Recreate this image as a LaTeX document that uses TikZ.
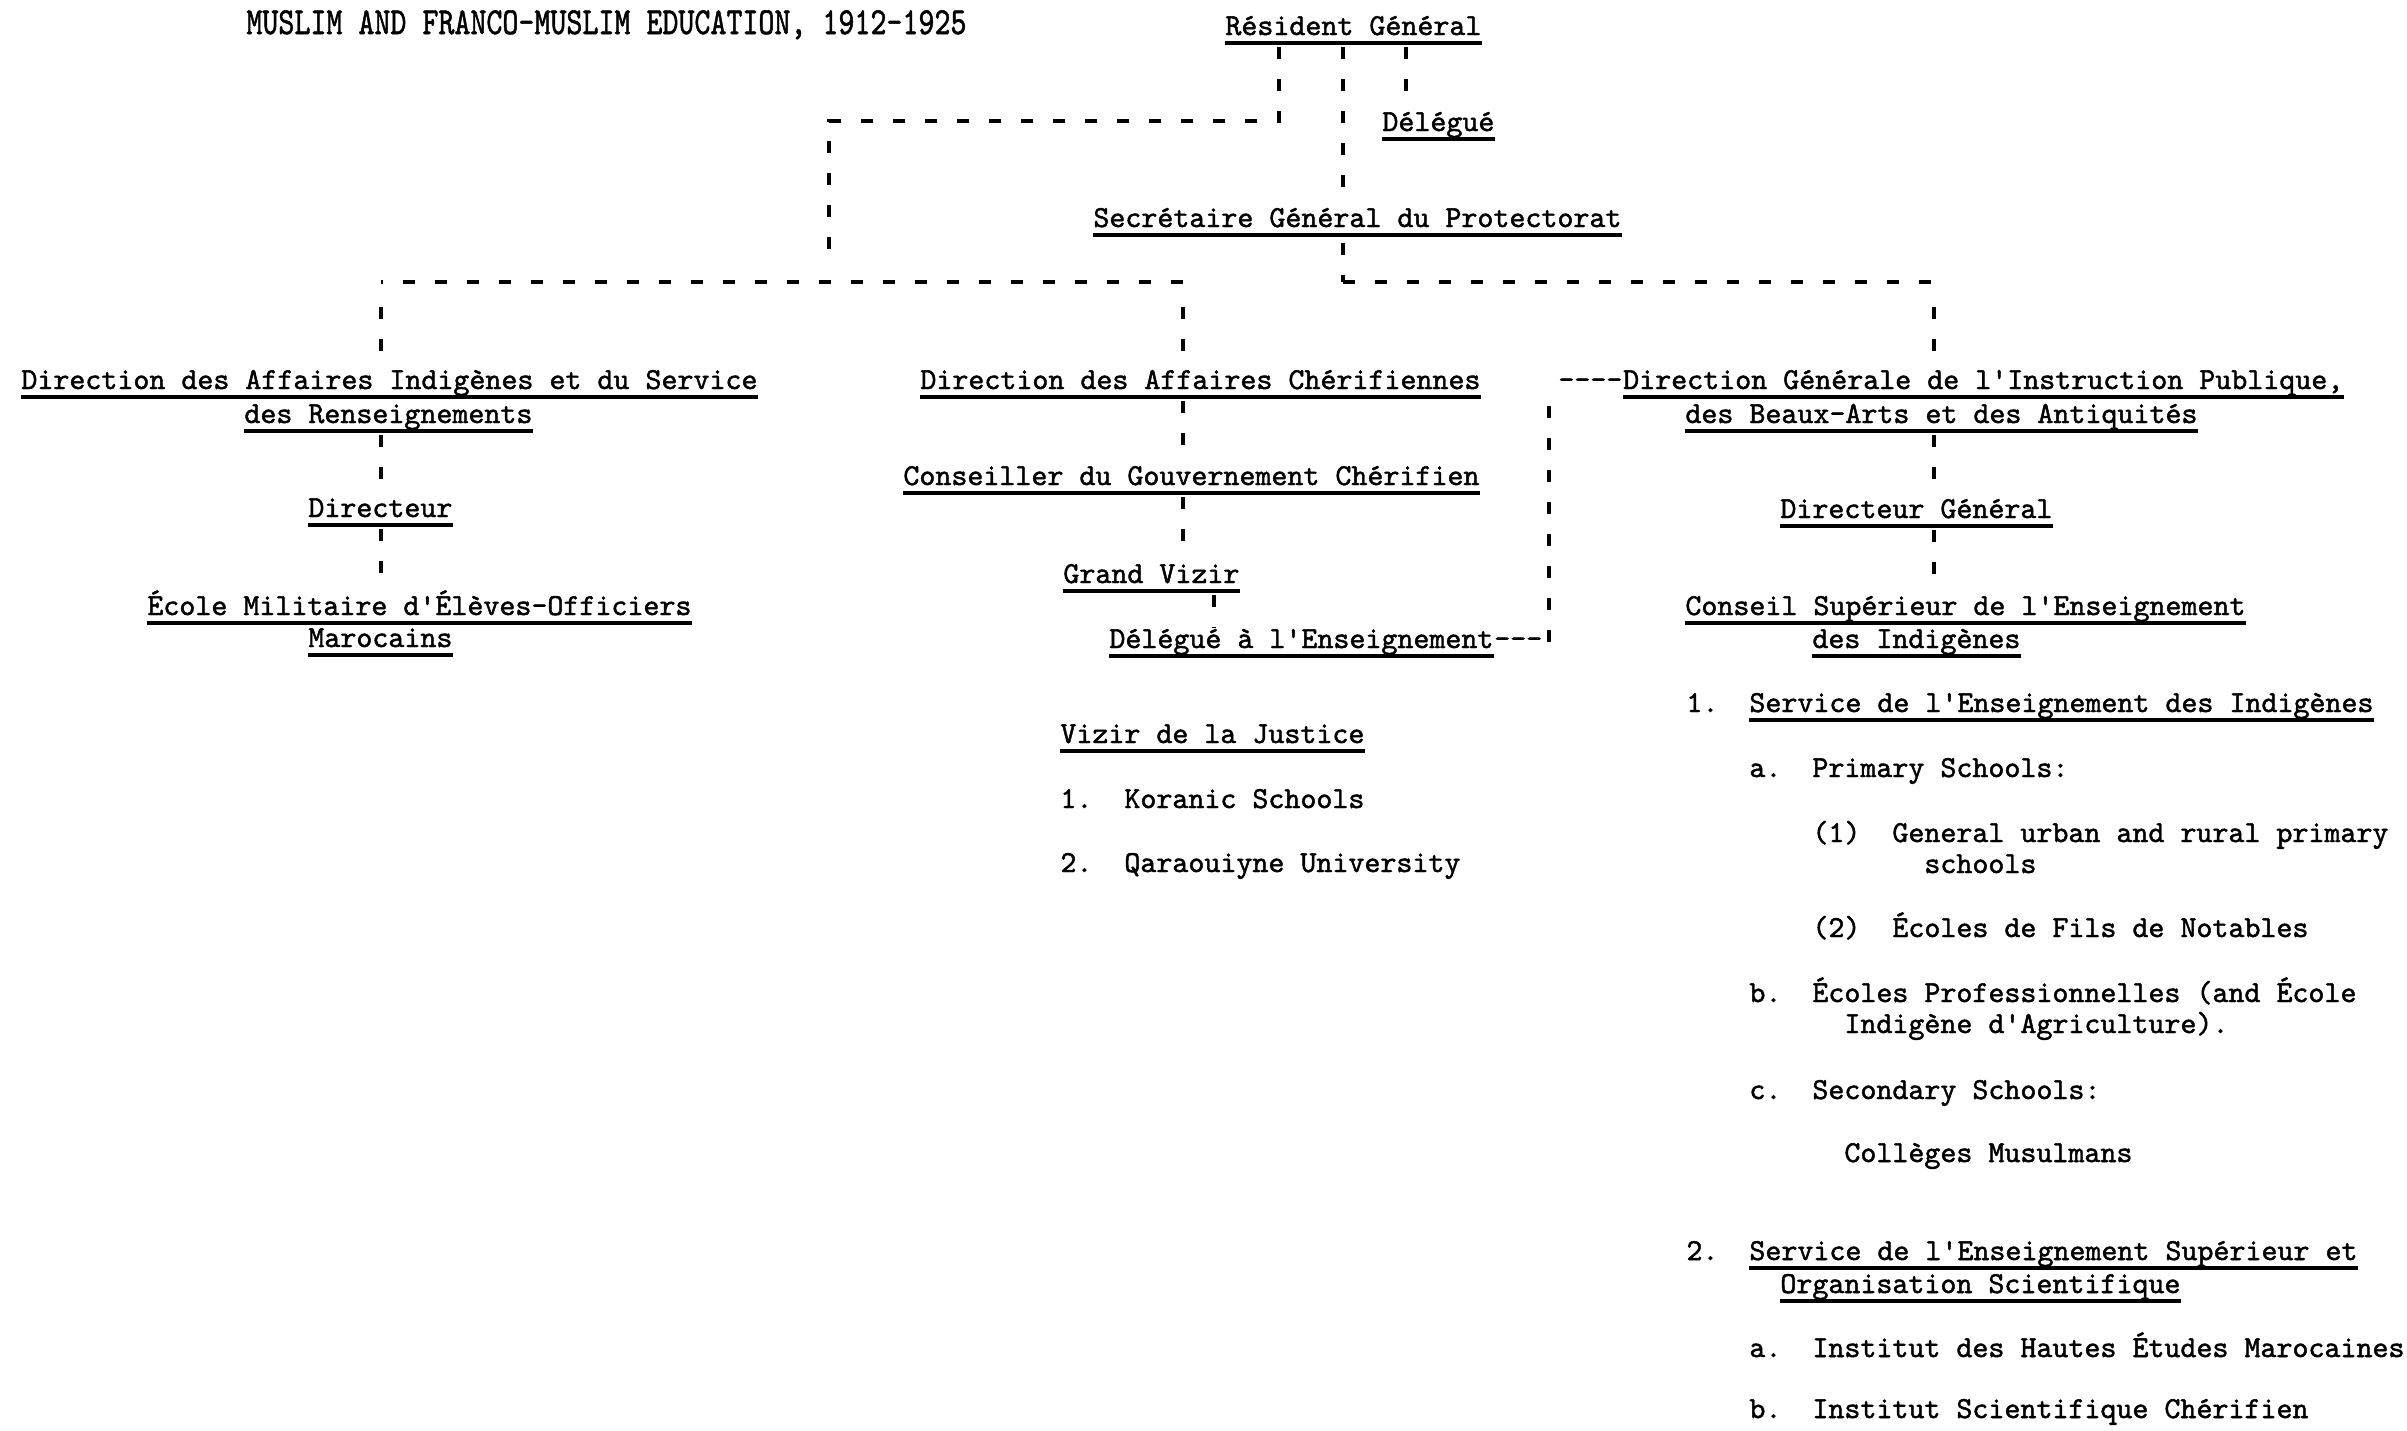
\documentclass[tikz,border=0pt]{standalone}
\usepackage{fontspec}
\newfontfamily\tw{lmmono10-regular.otf}[FakeBold=1.5]
\tikzset{
  txt/.style={inner sep=0pt, anchor=base west, font=\tw\fontsize{15.24}{17}\selectfont, text height=10pt, text depth=4pt},
  uline/.style={line width=1.8pt},
  conn/.style={line width=1.8pt, dash pattern=on 6pt off 10pt},
  tick/.style={conn, shorten <=2pt, shorten >=8pt},
  drop/.style={conn, shorten <=12.5pt, shorten >=8pt},
}
\newcommand\ULine[1]{\draw[uline] ([yshift=-4pt]#1.base west) -- ([yshift=-4pt]#1.base east);}
\begin{document}
\begin{tikzpicture}[x=0.5pt,y=-0.5pt]
\fill[white] (0,0) rectangle (2407,1430);
\useasboundingbox (0,0) rectangle (2407,1430);

% title and top
\node[txt] (title) at (246,34) {\scalebox{1}[1.25]{MUSLIM AND FRANCO-MUSLIM EDUCATION, 1912-1925}};
\node[txt] (res) at (1225,35) {Résident Général}; \ULine{res}
\node[txt] (dlg) at (1382,131) {Délégué}; \ULine{dlg}
\node[txt] (sec) at (1093,227) {Secrétaire Général du Protectorat}; \ULine{sec}

% left column
\node[txt] (dai1) at (21,389) {Direction des Affaires Indigènes et du Service}; \ULine{dai1}
\node[txt] (dai2) at (244,423) {des Renseignements}; \ULine{dai2}
\node[txt] (dir) at (308,517) {Directeur}; \ULine{dir}
\node[txt] (ecole1) at (147,615) {École Militaire d'Élèves-Officiers}; \ULine{ecole1}
\node[txt] (ecole2) at (308,647) {Marocains}; \ULine{ecole2}

% middle column
\node[txt] (dac) at (920,389) {Direction des Affaires Chérifiennes}; \ULine{dac}
\node[txt] (cons) at (903,485) {Conseiller du Gouvernement Chérifien}; \ULine{cons}
\node[txt] (gv) at (1063,583) {Grand Vizir}; \ULine{gv}
\node[txt] (dlgE) at (1109,648) {Délégué à l'Enseignement}; \ULine{dlgE}
\node[txt] (dlgEd) at (dlgE.base east) {-{}-{}-};
\node[txt] (vj) at (1060,743) {Vizir de la Justice}; \ULine{vj}
\node[txt] (k1n) at (1060,808) {1.};
\node[txt] (k1) at (1124,808) {Koranic Schools};
\node[txt] (k2n) at (1060,872) {2.};
\node[txt] (k2) at (1124,872) {Qaraouiyne University};

% right column
\node[txt] (dgd) at (1558,389) {-{}-{}-{}-};
\node[txt] (dg1) at (dgd.base east) {Direction Générale de l'Instruction Publique,}; \ULine{dg1}
\node[txt] (dg2) at (1685,423) {des Beaux-Arts et des Antiquités}; \ULine{dg2}
\node[txt] (dgn) at (1780,518) {Directeur Général}; \ULine{dgn}
\node[txt] (cs1) at (1685,615) {Conseil Supérieur de l'Enseignement}; \ULine{cs1}
\node[txt] (cs2) at (1812,648) {des Indigènes}; \ULine{cs2}

\node[txt] (s1n) at (1686,712) {1.};
\node[txt] (s1) at (1749,712) {Service de l'Enseignement des Indigènes}; \ULine{s1}
\node[txt] (san) at (1749,777) {a.};
\node[txt] (sa) at (1812,777) {Primary Schools:};
\node[txt] (p1n) at (1812,842) {(1)};
\node[txt] (p1) at (1892,842) {General urban and rural primary};
\node[txt] (p1b) at (1924,873) {schools};
\node[txt] (p2n) at (1812,937) {(2)};
\node[txt] (p2) at (1892,937) {Écoles de Fils de Notables};
\node[txt] (sbn) at (1749,1002) {b.};
\node[txt] (sb) at (1812,1002) {Écoles Professionnelles (and École};
\node[txt] (sb2) at (1844,1033) {Indigène d'Agriculture).};
\node[txt] (scn) at (1749,1099) {c.};
\node[txt] (sc) at (1812,1099) {Secondary Schools:};
\node[txt] (coll) at (1844,1162) {Collèges Musulmans};
\node[txt] (s2n) at (1686,1260) {2.};
\node[txt] (s2) at (1749,1260) {Service de l'Enseignement Supérieur et}; \ULine{s2}
\node[txt] (s2b) at (1780,1293) {Organisation Scientifique}; \ULine{s2b}
\node[txt] (ian) at (1749,1357) {a.};
\node[txt] (ia) at (1812,1357) {Institut des Hautes Études Marocaines};
\node[txt] (ibn) at (1749,1418) {b.};
\node[txt] (ib) at (1812,1418) {Institut Scientifique Chérifien};

% junction coordinates
\coordinate (t1) at (1279,121);
\coordinate (t2) at (829,121);
\coordinate (t3) at (829,260);
\coordinate (bl) at (381,282);
\coordinate (bm) at (1183,282);
\coordinate (sx) at (1343,282);
\coordinate (br) at (1934,282);
\coordinate (dx) at (1406,100);
\coordinate (gx) at (1214,600);
\coordinate (vx) at (1549,500);

% connectors from Résident Général
\draw[conn, shorten <=2pt] (res.south -| t1) -- (t1) -- (t2) -- (t3);
\draw[conn, shorten <=2pt] (res.south -| sx) -- (sec.north -| sx);
\draw[tick] (res.south -| dx) -- (dlg.north -| dx);

% lower branch lines
\draw[conn] (bm) -- (bl);
\draw[conn] (sx) -- (br);
\draw[conn, shorten <=4pt] (sec.south -| sx) -- (sx);
\draw[drop] (bl) -- (dai1.north -| bl);
\draw[drop] (bm) -- (dac.north -| bm);
\draw[drop] (br) -- (dg1.north -| br);

% column connectors
\draw[tick] (dai2.south -| bl) -- (dir.north -| bl);
\draw[tick] (dir.south -| bl) -- (ecole1.north -| bl);
\draw[tick] (dac.south -| bm) -- (cons.north -| bm);
\draw[tick] (cons.south -| bm) -- (gv.north -| bm);
\draw[conn, shorten <=2pt] (gv.south -| gx) -- (dlgE.north -| gx);
\draw[tick] (dg2.south -| br) -- (dgn.north -| br);
\draw[tick] (dgn.south -| br) -- (cs1.north -| br);

% link Délégué à l'Enseignement --- Direction Générale
\draw[conn, shorten >=5pt] ([yshift=3pt]dlgEd.base -| vx) -- ([yshift=3pt]dgd.base -| vx);
\end{tikzpicture}
\end{document}
